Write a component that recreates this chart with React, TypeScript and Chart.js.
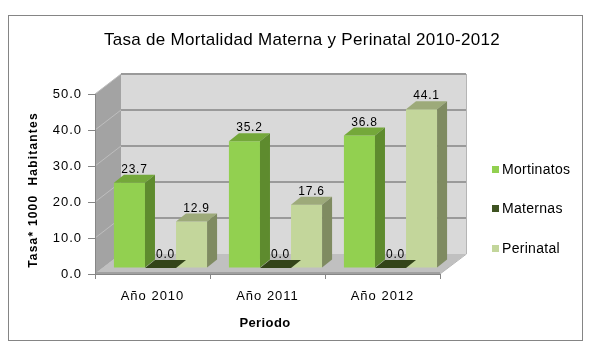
import { useEffect, useRef } from "react";
import { Chart, registerables } from "chart.js";

Chart.register(...registerables);

const chartTitle = "Tasa de Mortalidad Materna y Perinatal 2010-2012";
const yTitle = "Tasa* 1000  Habitantes";
const xTitle = "Periodo";
const categories = ["Año 2010", "Año 2011", "Año 2012"];
const seriesNames = ["Mortinatos", "Maternas", "Perinatal"];
const mortinatos = [23.7, 35.2, 36.8];
const maternas = [0.0, 0.0, 0.0];
const perinatal = [12.9, 17.6, 44.1];
const yMin = 0;
const yMax = 50;
const yStep = 10;

const FONT = "'Liberation Sans', Arial, sans-serif";
const frontColors = ["#92D050", "#3F5321", "#C3D69B"];
const topColors = ["#74A83A", "#334419", "#9DAA7A"];
const sideColors = ["#5E8B2E", "#2B3915", "#7F8B61"];

// 3D geometry (pixels)
const WALL_DX = 26;
const WALL_DY = -20;
const BAR_DX = 8;
const BAR_DY = -6;
const DEPTH_DX = 10;
const DEPTH_DY = -8;

const threeD = {
  id: "threeD",
  beforeDraw(chart: any) {
    const { ctx, chartArea } = chart;
    const { left, right, top, bottom } = chartArea;
    const ys = chart.scales.y;
    ctx.save();
    // outer border
    ctx.strokeStyle = "#858585";
    ctx.lineWidth = 1;
    ctx.strokeRect(8.5, 15.5, 574, 325);
    // back wall
    ctx.fillStyle = "#D9D9D9";
    ctx.fillRect(left + WALL_DX, top + WALL_DY, right - left, bottom - top);
    // left wall
    ctx.fillStyle = "#A3A3A3";
    ctx.beginPath();
    ctx.moveTo(left, bottom);
    ctx.lineTo(left + WALL_DX, bottom + WALL_DY);
    ctx.lineTo(left + WALL_DX, top + WALL_DY);
    ctx.lineTo(left, top);
    ctx.closePath();
    ctx.fill();
    // floor
    ctx.fillStyle = "#C0C0C0";
    ctx.beginPath();
    ctx.moveTo(left, bottom);
    ctx.lineTo(right, bottom);
    ctx.lineTo(right + WALL_DX, bottom + WALL_DY);
    ctx.lineTo(left + WALL_DX, bottom + WALL_DY);
    ctx.closePath();
    ctx.fill();
    // gridlines
    for (let v = yMin; v <= yMax; v += yStep) {
      const py = ys.getPixelForValue(v);
      ctx.strokeStyle = "#BEBEBE";
      ctx.lineWidth = 1;
      ctx.beginPath();
      ctx.moveTo(left, py);
      ctx.lineTo(left + WALL_DX, py + WALL_DY);
      ctx.stroke();
      if (v > yMin) {
        ctx.strokeStyle = "#9A9A9A";
        ctx.lineWidth = 2;
        ctx.beginPath();
        ctx.moveTo(left + WALL_DX, py + WALL_DY);
        ctx.lineTo(right + WALL_DX, py + WALL_DY);
        ctx.stroke();
      }
    }
    // wall edges
    ctx.strokeStyle = "#B5B5B5";
    ctx.lineWidth = 1;
    ctx.beginPath();
    ctx.moveTo(right + WALL_DX + 0.5, top + WALL_DY);
    ctx.lineTo(right + WALL_DX + 0.5, bottom + WALL_DY);
    ctx.lineTo(right, bottom);
    ctx.stroke();
    ctx.strokeStyle = "#A0A0A0";
    ctx.lineWidth = 2;
    ctx.beginPath();
    ctx.moveTo(left, bottom - 1);
    ctx.lineTo(right, bottom - 1);
    ctx.stroke();
    ctx.restore();
    (ctx as any).letterSpacing = "1px";
  },
  beforeDatasetDraw(chart: any, args: any) {
    const { ctx } = chart;
    const i = args.index;
    const meta = args.meta;
    ctx.save();
    for (const el of meta.data) {
      const { x, y, base, width } = el.getProps(["x", "y", "base", "width"], true);
      const l = x - width / 2 + BAR_DX;
      const r = x + width / 2 + BAR_DX;
      const t = y + BAR_DY;
      const b = base + BAR_DY;
      // front
      ctx.fillStyle = frontColors[i];
      ctx.fillRect(l, t, r - l, b - t);
      // top
      ctx.fillStyle = topColors[i];
      ctx.beginPath();
      ctx.moveTo(l, t);
      ctx.lineTo(r, t);
      ctx.lineTo(r + DEPTH_DX, t + DEPTH_DY);
      ctx.lineTo(l + DEPTH_DX, t + DEPTH_DY);
      ctx.closePath();
      ctx.fill();
      // side
      ctx.fillStyle = sideColors[i];
      ctx.beginPath();
      ctx.moveTo(r, t);
      ctx.lineTo(r + DEPTH_DX, t + DEPTH_DY);
      ctx.lineTo(r + DEPTH_DX, b + DEPTH_DY);
      ctx.lineTo(r, b);
      ctx.closePath();
      ctx.fill();
    }
    ctx.restore();
    return false;
  },
  afterDraw(chart: any) {
    const { ctx } = chart;
    ctx.save();
    ctx.fillStyle = "#000";
    // data labels
    ctx.font = `12px ${FONT}`;
    (ctx as any).letterSpacing = "0.8px";
    ctx.textAlign = "center";
    ctx.textBaseline = "alphabetic";
    chart.data.datasets.forEach((ds: any, i: number) => {
      const meta = chart.getDatasetMeta(i);
      meta.data.forEach((el: any, j: number) => {
        const { x, y } = el.getProps(["x", "y"], true);
        ctx.fillText(Number(ds.data[j]).toFixed(1), x + BAR_DX + 5, y + BAR_DY - 10);
      });
    });
    // title
    ctx.font = `17px ${FONT}`;
    (ctx as any).letterSpacing = "0.3px";
    ctx.fillText(chartTitle, 302, 45);
    // x title
    ctx.font = `bold 13px ${FONT}`;
    (ctx as any).letterSpacing = "0.4px";
    ctx.fillText(xTitle, 265, 327);
    // y title
    ctx.save();
    ctx.translate(36.5, 190);
    ctx.rotate(-Math.PI / 2);
    ctx.font = `bold 12px ${FONT}`;
    (ctx as any).letterSpacing = "1.2px";
    ctx.fillText(yTitle, 0, 0);
    ctx.restore();
    // legend
    ctx.font = `14px ${FONT}`;
    (ctx as any).letterSpacing = "0.3px";
    ctx.textAlign = "left";
    const legendY = [174, 213, 253];
    seriesNames.forEach((name, i) => {
      ctx.fillStyle = frontColors[i];
      ctx.fillRect(492, legendY[i] - 8, 7, 7);
      ctx.fillStyle = "#000";
      ctx.fillText(name, 502, legendY[i]);
    });
    ctx.restore();
  },
};

export default function App() {
  const ref = useRef<HTMLCanvasElement | null>(null);
  useEffect(() => {
    if (!ref.current) return;
    const chart = new Chart(ref.current, {
      type: "bar",
      data: {
        labels: categories,
        datasets: [
          { label: seriesNames[0], data: mortinatos, backgroundColor: frontColors[0] },
          { label: seriesNames[1], data: maternas, backgroundColor: frontColors[1] },
          { label: seriesNames[2], data: perinatal, backgroundColor: frontColors[2] },
        ],
      },
      options: {
        responsive: false,
        animation: false,
        devicePixelRatio: 1,
        layout: { padding: { left: 20, right: 149, top: 94, bottom: 36 } },
        plugins: { legend: { display: false }, title: { display: false }, tooltip: { enabled: false } },
        datasets: { bar: { categoryPercentage: 0.81, barPercentage: 1 } },
        scales: {
          x: {
            afterFit: (s: any) => { s.height = 40; },
            grid: { display: true, drawOnChartArea: false, tickLength: 5, color: "#868686", offset: true },
            border: { display: true, color: "#868686" },
            ticks: { color: "#000", font: { family: FONT, size: 13 }, padding: 10 },
          },
          y: {
            min: yMin,
            max: yMax,
            afterFit: (s: any) => { s.width = 75; },
            grid: { display: true, drawOnChartArea: false, tickLength: 7, color: "#868686" },
            border: { display: true, color: "#868686" },
            ticks: {
              stepSize: yStep,
              color: "#000",
              font: { family: FONT, size: 13 },
              padding: 6,
              callback: (v: any) => Number(v).toFixed(1),
            },
          },
        },
      },
      plugins: [threeD],
    });
    return () => chart.destroy();
  }, []);
  return (
    <div style={{ position: "absolute", left: 0, top: 0, width: 589, height: 350, background: "#fff" }}>
      <canvas ref={ref} width={589} height={350} style={{ display: "block" }} />
    </div>
  );
}
